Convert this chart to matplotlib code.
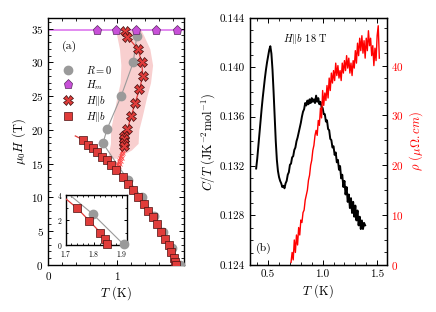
import numpy as np
import matplotlib
matplotlib.use('Agg')
import matplotlib.pyplot as plt
from matplotlib.ticker import MultipleLocator, FormatStrFormatter

plt.rcParams['font.family'] = 'serif'
plt.rcParams['font.serif'] = ['cmr10']
plt.rcParams['mathtext.fontset'] = 'cm'
plt.rcParams['axes.formatter.use_mathtext'] = True
plt.rcParams['axes.unicode_minus'] = False

# ---- panel (a) data: phase diagram mu0H vs T
sq_T = [0.507, 0.58, 0.643, 0.70, 0.77, 0.855, 0.91, 0.98, 1.075, 1.15, 1.22,
        1.30, 1.38, 1.45, 1.51, 1.57, 1.63, 1.69, 1.741, 1.783, 1.823, 1.838, 1.848]
sq_H = [18.5, 17.8, 17.3, 16.7, 16.0, 15.6, 14.8, 14.1, 13.0, 12.0, 11.1,
        10.0, 9.0, 8.05, 7.06, 6.07, 4.9, 3.9, 2.94, 1.95, 0.99, 0.45, 0.05]
sq_line_T = [0.39] + sq_T
sq_line_H = [19.1] + sq_H

r0_T = [1.905, 1.796, 1.667, 1.53, 1.35, 1.15, 0.79, 0.85, 1.054, 1.23, 1.28]
r0_H = [0.05, 2.48, 4.9, 7.2, 10.1, 12.6, 18.0, 20.1, 25.0, 30.0, 33.9]

hm_T = [0.70, 0.977, 1.266, 1.556, 1.87]
hm_H = [34.8, 34.8, 34.8, 34.8, 34.8]

cr_T = [1.11, 1.145, 1.295, 1.353, 1.368, 1.319, 1.257, 1.2, 1.145, 1.097, 1.097, 1.097, 1.09]
cr_H = [34.6, 33.8, 32.0, 30.0, 28.0, 26.0, 24.0, 22.0, 20.1, 19.1, 18.6, 18.1, 17.6]

sm_T = [1.09, 1.08, 1.07, 1.085, 1.06, 1.05, 1.07, 1.04, 1.03, 1.055, 1.02, 1.01, 1.04, 1.00, 1.03]
sm_H = [17.3, 17.0, 16.8, 16.5, 16.4, 16.1, 15.9, 15.9, 15.6, 15.4, 15.3, 15.0, 14.9, 14.8, 14.6]

band_H = [15.8, 17, 18, 20, 22, 24.7, 27, 29.6, 32, 34, 35]
band_lo = [0.86, 0.88, 0.90, 0.90, 0.94, 0.99, 1.04, 1.05, 1.03, 0.99, 0.97]
band_hi = [0.98, 1.20, 1.30, 1.31, 1.36, 1.42, 1.48, 1.51, 1.47, 1.38, 1.33]

# ---- panel (b) data: C/T and rho at 18 T
cT_T = np.round(np.linspace(0.39, 1.39, 101), 2)
cT = [0.1318, 0.1326, 0.1336, 0.1346, 0.1356, 0.1366, 0.1375, 0.1383, 0.1391, 0.1398,
      0.1404, 0.1409, 0.1414, 0.1417, 0.1411, 0.1398, 0.1380, 0.1360, 0.1340, 0.1325,
      0.1316, 0.1311, 0.1308, 0.1306, 0.1303, 0.1304, 0.1302, 0.1306, 0.1308, 0.1313,
      0.1315, 0.1321, 0.1322, 0.1327, 0.1328, 0.1333, 0.1335, 0.1340, 0.1343, 0.1347,
      0.1351, 0.1355, 0.1360, 0.1364, 0.1366, 0.1371, 0.1369, 0.1373, 0.1370, 0.1374,
      0.1371, 0.1375, 0.1372, 0.1374, 0.1371, 0.1377, 0.1372, 0.1375, 0.1370, 0.1372,
      0.1368, 0.1367, 0.1362, 0.1362, 0.1356, 0.1357, 0.1350, 0.1349, 0.1342, 0.1341,
      0.1335, 0.1336, 0.1329, 0.1331, 0.1323, 0.1325, 0.1317, 0.1320, 0.1310, 0.1313,
      0.1303, 0.1308, 0.1297, 0.1303, 0.1291, 0.1297, 0.1286, 0.1294, 0.1282, 0.1291,
      0.1279, 0.1288, 0.1276, 0.1284, 0.1272, 0.1279, 0.1269, 0.1276, 0.1269, 0.1274,
      0.1272]

rho_T = np.round(np.linspace(0.71, 1.52, 82), 2)
rho = [0.5, 2.5, 1.0, 5.0, 2.5, 6.0, 4.0, 7.5, 6.0, 9.0,
       8.5, 10.5, 11.0, 13.0, 14.0, 15.0, 17.0, 18.0, 20.0, 21.0,
       23.0, 24.0, 26.0, 27.0, 26.0, 29.0, 28.0, 31.5, 29.5, 35.0,
       32.0, 34.5, 33.0, 36.0, 33.5, 37.5, 35.0, 38.5, 36.5, 39.0,
       37.0, 40.5, 38.0, 40.0, 37.5, 39.0, 37.0, 40.5, 38.5, 41.0,
       39.0, 42.0, 39.5, 41.5, 38.5, 40.5, 38.0, 41.0, 39.5, 43.0,
       40.5, 44.5, 42.0, 45.5, 43.0, 46.0, 42.5, 45.0, 41.5, 45.5,
       43.0, 47.0, 44.0, 45.5, 42.0, 44.0, 40.0, 43.5, 41.0, 46.0,
       48.0, 41.5]

red = '#e03c3a'
gray = '#9a9a9a'
violet = '#c850d8'

fig = plt.figure(figsize=(4.36, 3.12), dpi=100)

def style(ax, fs=8):
    ax.tick_params(which='both', direction='in', top=True, right=True, labelsize=fs)
    ax.tick_params(which='major', length=3.5, width=0.7)
    ax.tick_params(which='minor', length=2, width=0.6)
    for s in ax.spines.values():
        s.set_linewidth(1.0)

# ---------- (a)
ax = fig.add_axes([0.111, 0.151, 0.311, 0.792])
ax.fill_betweenx(band_H, band_lo, band_hi, color='#f8cfcf', lw=0, zorder=0)
ax.axhline(34.8, color='#dd77ee', lw=1.2, zorder=1)
ax.plot(r0_T, r0_H, color=gray, lw=0.8, zorder=2)
ax.plot(r0_T, r0_H, 'o', color=gray, ms=6, zorder=3, label='$R=0$')
ax.plot(hm_T, hm_H, 'p', color=violet, mec='#5a2a60', mew=0.5, ms=6.5, zorder=6, label='$H_m$')
ax.plot(cr_T + [1.0], cr_H + [14.7], color=red, lw=0.9, zorder=4)
ax.plot(sm_T, sm_H, 'x', color='#ff5050', ms=3, mew=0.6, zorder=4)
ax.plot(cr_T, cr_H, 'X', color=red, mec='#3a0a0a', mew=0.5, ms=6.5, zorder=5, label=r'$H\|b$')
ax.plot(sq_line_T, sq_line_H, color=red, lw=0.9, zorder=4)
ax.plot(sq_T, sq_H, 's', color=red, mec='#4a1010', mew=0.5, ms=6, zorder=5, label=r'$H\|b$')
ax.set_xlim(0, 1.965)
ax.set_ylim(0, 36.6)
ax.xaxis.set_major_locator(MultipleLocator(1))
ax.xaxis.set_minor_locator(MultipleLocator(0.2))
ax.yaxis.set_major_locator(MultipleLocator(5))
ax.yaxis.set_minor_locator(MultipleLocator(1))
style(ax)
ax.set_xlabel('$T$ (K)', fontsize=9, labelpad=2)
ax.set_ylabel(r'$\mu_0H$ (T)', fontsize=9, labelpad=2)
ax.text(0.19, 32.3, '(a)', fontsize=8.5, va='center')
ax.legend(loc='upper left', bbox_to_anchor=(0.07, 0.83), frameon=False, fontsize=7.5,
          handlelength=1.2, handletextpad=1.1, labelspacing=0.2, borderaxespad=0, numpoints=1)

# inset: only the points near the zero-field transition
ins = fig.add_axes([0.1507, 0.2147, 0.141, 0.160])
in_r0 = [(t, h) for t, h in zip(r0_T, r0_H) if t >= 1.7]
in_sq = [(t, h) for t, h in zip(sq_T, sq_H) if t >= 1.7]
ins.plot(r0_T, r0_H, color=gray, lw=0.8, zorder=2)
ins.plot(sq_line_T, sq_line_H, color=red, lw=0.9, zorder=4)
ins.plot([p[0] for p in in_r0], [p[1] for p in in_r0], 'o', color=gray, ms=6,
         zorder=3, clip_on=False)
ins.plot([p[0] for p in in_sq], [p[1] for p in in_sq], 's', color=red, mec='#4a1010',
         mew=0.5, ms=6, zorder=5, clip_on=False)
ins.set_xlim(1.7, 1.918)
ins.set_ylim(0, 4)
ins.xaxis.set_major_locator(MultipleLocator(0.1))
ins.xaxis.set_minor_locator(MultipleLocator(0.02))
ins.yaxis.set_major_locator(MultipleLocator(2))
ins.yaxis.set_minor_locator(MultipleLocator(1))
style(ins, fs=5.5)
ins.tick_params(which='major', length=2.5)
ins.tick_params(which='minor', length=1.5)
ins.tick_params(axis='x', pad=3)
ins.tick_params(axis='y', pad=2.5)

# ---------- (b)
bx = fig.add_axes([0.573, 0.151, 0.3135, 0.792])
bx.plot(cT_T, cT, color='black', lw=1.4)
bx.set_xlim(0.332, 1.586)
bx.set_ylim(0.124, 0.144)
bx.xaxis.set_major_locator(MultipleLocator(0.5))
bx.xaxis.set_minor_locator(MultipleLocator(0.1))
bx.yaxis.set_major_locator(MultipleLocator(0.004))
bx.yaxis.set_minor_locator(MultipleLocator(0.001))
bx.yaxis.set_major_formatter(FormatStrFormatter('%.3f'))
bx.xaxis.set_major_formatter(FormatStrFormatter('%.1f'))
style(bx)
bx.tick_params(which='both', right=False)
bx.set_xlabel('$T$ (K)', fontsize=9, labelpad=2)
bx.set_ylabel(r'$C/T$ (JK$^{-2}$mol$^{-1}$)', fontsize=9, labelpad=2)
bx.text(0.837, 0.1423, r'$H\|b$ 18 T', fontsize=7.5, ha='center', va='center')
bx.text(0.39, 0.1253, '(b)', fontsize=8.5, va='center')

bx2 = bx.twinx()
bx2.plot(rho_T, rho, color='red', lw=1.0)
bx2.set_ylim(0, 49.6)
bx2.yaxis.set_major_locator(MultipleLocator(10))
bx2.yaxis.set_minor_locator(MultipleLocator(2.5))
bx2.tick_params(which='both', direction='in', labelsize=8, labelcolor='red')
bx2.tick_params(which='major', length=3.5, width=0.7)
bx2.tick_params(which='minor', length=2, width=0.6)
bx2.set_ylabel(r'$\rho$ ($\mu\Omega.cm$)', fontsize=9, color='red', labelpad=2)

fig.savefig('out.png', dpi=100)
